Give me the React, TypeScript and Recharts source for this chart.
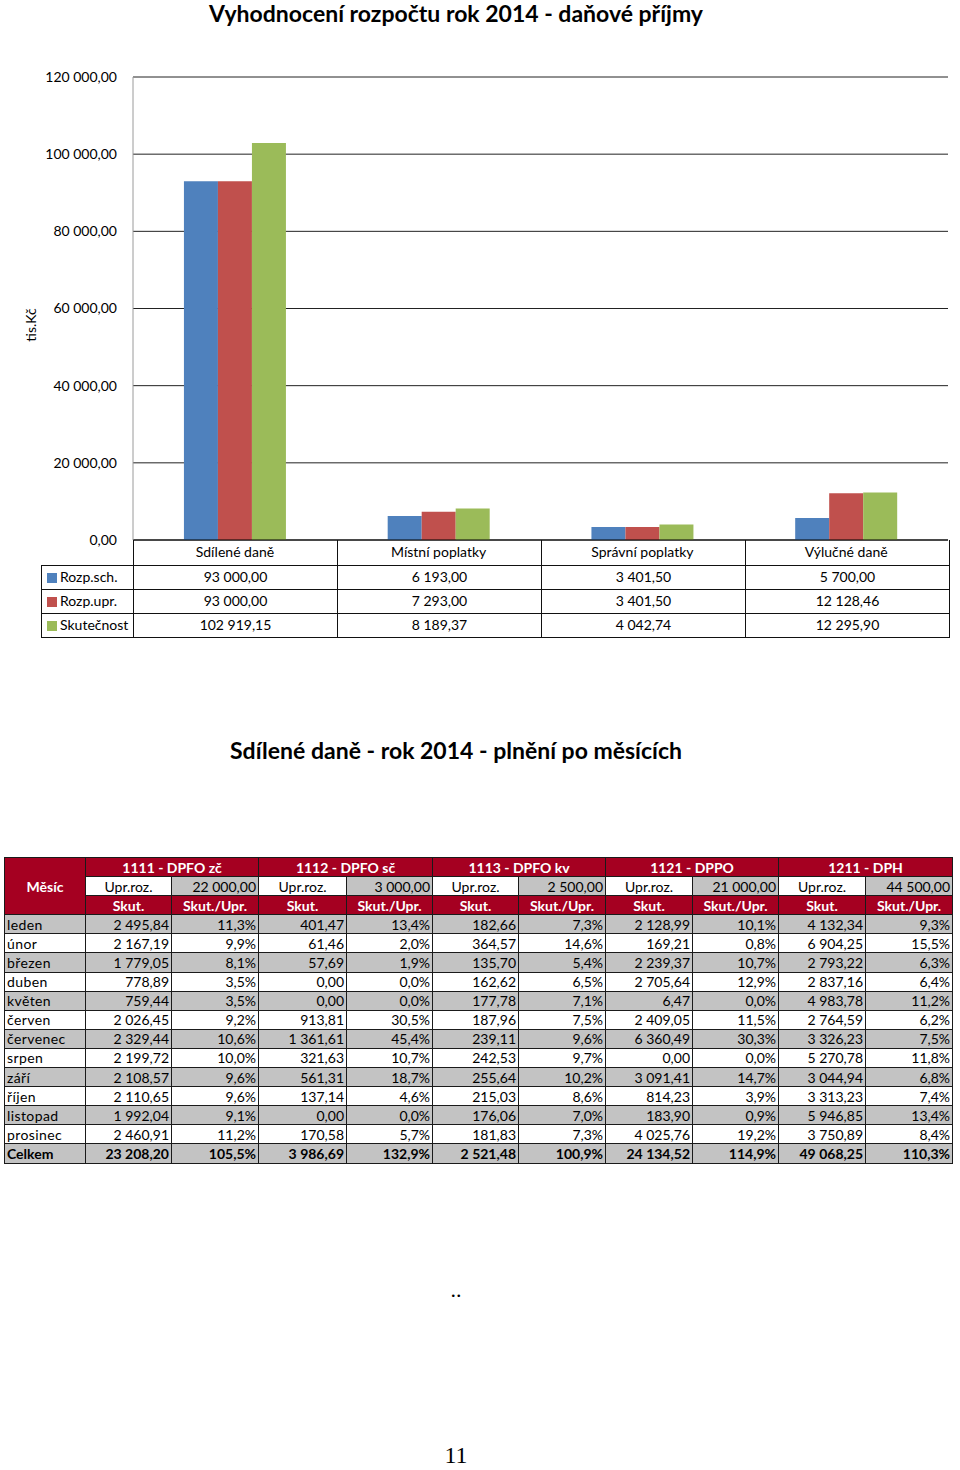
import React from 'react';
import { BarChart, Bar, XAxis, YAxis, CartesianGrid } from 'recharts';

// ---------- chart data ----------
const categories = ['Sdílené daně', 'Místní poplatky', 'Správní poplatky', 'Výlučné daně'];
const seriesNames = ['Rozp.sch.', 'Rozp.upr.', 'Skutečnost'];
const rozpSch = [93000, 6193, 3401.5, 5700];
const rozpUpr = [93000, 7293, 3401.5, 12128.46];
const skutecnost = [102919.15, 8189.37, 4042.74, 12295.9];
const yTicks = [0, 20000, 40000, 60000, 80000, 100000, 120000];
const seriesColors = ['#4F81BD', '#C0504D', '#9BBB59'];

// ---------- monthly table data ----------
const months = ['leden', 'únor', 'březen', 'duben', 'květen', 'červen', 'červenec', 'srpen', 'září', 'říjen', 'listopad', 'prosinec'];
const taxHeaders = ['1111 - DPFO zč', '1112 - DPFO sč', '1113 - DPFO kv', '1121 - DPPO', '1211 - DPH'];
const taxBudgets = ['22 000,00', '3 000,00', '2 500,00', '21 000,00', '44 500,00'];
const dpfoZc = ['2 495,84', '2 167,19', '1 779,05', '778,89', '759,44', '2 026,45', '2 329,44', '2 199,72', '2 108,57', '2 110,65', '1 992,04', '2 460,91'];
const dpfoZcPct = ['11,3%', '9,9%', '8,1%', '3,5%', '3,5%', '9,2%', '10,6%', '10,0%', '9,6%', '9,6%', '9,1%', '11,2%'];
const dpfoSc = ['401,47', '61,46', '57,69', '0,00', '0,00', '913,81', '1 361,61', '321,63', '561,31', '137,14', '0,00', '170,58'];
const dpfoScPct = ['13,4%', '2,0%', '1,9%', '0,0%', '0,0%', '30,5%', '45,4%', '10,7%', '18,7%', '4,6%', '0,0%', '5,7%'];
const dpfoKv = ['182,66', '364,57', '135,70', '162,62', '177,78', '187,96', '239,11', '242,53', '255,64', '215,03', '176,06', '181,83'];
const dpfoKvPct = ['7,3%', '14,6%', '5,4%', '6,5%', '7,1%', '7,5%', '9,6%', '9,7%', '10,2%', '8,6%', '7,0%', '7,3%'];
const dppo = ['2 128,99', '169,21', '2 239,37', '2 705,64', '6,47', '2 409,05', '6 360,49', '0,00', '3 091,41', '814,23', '183,90', '4 025,76'];
const dppoPct = ['10,1%', '0,8%', '10,7%', '12,9%', '0,0%', '11,5%', '30,3%', '0,0%', '14,7%', '3,9%', '0,9%', '19,2%'];
const dph = ['4 132,34', '6 904,25', '2 793,22', '2 837,16', '4 983,78', '2 764,59', '3 326,23', '5 270,78', '3 044,94', '3 313,23', '5 946,85', '3 750,89'];
const dphPct = ['9,3%', '15,5%', '6,3%', '6,4%', '11,2%', '6,2%', '7,5%', '11,8%', '6,8%', '7,4%', '13,4%', '8,4%'];
const totals = ['23 208,20', '3 986,69', '2 521,48', '24 134,52', '49 068,25'];
const totalPcts = ['105,5%', '132,9%', '100,9%', '114,9%', '110,3%'];

const taxSkut = [dpfoZc, dpfoSc, dpfoKv, dppo, dph];
const taxPct = [dpfoZcPct, dpfoScPct, dpfoKvPct, dppoPct, dphPct];

const FONT = 'Lato, "Open Sans", sans-serif';
const RED = '#A50021';
const GRAY = '#C3C3C3';

function fmt(n: number): string {
  const fixed = Math.abs(n).toFixed(2);
  const [intPart, dec] = fixed.split('.');
  const withSpaces = intPart.replace(/\B(?=(\d{3})+(?!\d))/g, '\u00a0');
  return (n < 0 ? '-' : '') + withSpaces + ',' + dec;
}

const chartData = categories.map((c, i) => ({
  name: c,
  s0: rozpSch[i],
  s1: rozpUpr[i],
  s2: skutecnost[i],
}));
const seriesValues = [rozpSch, rozpUpr, skutecnost];

const bigCols = [81, 86, 87, 88, 86, 86, 87, 87, 86, 87, 87];
const ROW_H = 19.1;

const cellBase: React.CSSProperties = {
  border: '1px solid #1a1a1a',
  padding: '0 2px',
  height: ROW_H,
  fontSize: 14,
  lineHeight: '17px',
  whiteSpace: 'nowrap',
  overflow: 'hidden',
  boxSizing: 'border-box',
};

function BigTable() {
  const rows: React.ReactNode[] = [];
  rows.push(
    <tr key="h1" style={{ height: ROW_H }}>
      <td rowSpan={3} style={{ ...cellBase, background: RED, color: '#fff', fontWeight: 700, textAlign: 'center' }}>Měsíc</td>
      {taxHeaders.map((h) => (
        <td key={h} colSpan={2} style={{ ...cellBase, background: RED, color: '#fff', fontWeight: 700, textAlign: 'center' }}>{h}</td>
      ))}
    </tr>
  );
  rows.push(
    <tr key="h2" style={{ height: ROW_H }}>
      {taxBudgets.map((b, i) => (
        <React.Fragment key={i}>
          <td style={{ ...cellBase, background: '#fff', textAlign: 'center' }}>Upr.roz.</td>
          <td style={{ ...cellBase, background: GRAY, textAlign: 'right' }}>{b}</td>
        </React.Fragment>
      ))}
    </tr>
  );
  rows.push(
    <tr key="h3" style={{ height: ROW_H }}>
      {taxHeaders.map((_, i) => (
        <React.Fragment key={i}>
          <td style={{ ...cellBase, background: RED, color: '#fff', fontWeight: 700, textAlign: 'center' }}>Skut.</td>
          <td style={{ ...cellBase, background: RED, color: '#fff', fontWeight: 700, textAlign: 'center' }}>Skut./Upr.</td>
        </React.Fragment>
      ))}
    </tr>
  );
  months.forEach((m, r) => {
    const bg = r % 2 === 0 ? GRAY : '#fff';
    rows.push(
      <tr key={m} style={{ height: ROW_H }}>
        <td style={{ ...cellBase, background: bg, textAlign: 'left', letterSpacing: 0.4 }}>{m}</td>
        {taxSkut.map((arr, i) => (
          <React.Fragment key={i}>
            <td style={{ ...cellBase, background: bg, textAlign: 'right' }}>{arr[r]}</td>
            <td style={{ ...cellBase, background: bg, textAlign: 'right' }}>{taxPct[i][r]}</td>
          </React.Fragment>
        ))}
      </tr>
    );
  });
  rows.push(
    <tr key="total" style={{ height: ROW_H }}>
      <td style={{ ...cellBase, background: GRAY, textAlign: 'left', fontWeight: 700 }}>Celkem</td>
      {totals.map((t, i) => (
        <React.Fragment key={i}>
          <td style={{ ...cellBase, background: GRAY, textAlign: 'right', fontWeight: 700 }}>{t}</td>
          <td style={{ ...cellBase, background: GRAY, textAlign: 'right', fontWeight: 700 }}>{totalPcts[i]}</td>
        </React.Fragment>
      ))}
    </tr>
  );
  return (
    <table
      style={{
        position: 'absolute',
        left: 4,
        top: 857,
        width: 948,
        borderCollapse: 'collapse',
        tableLayout: 'fixed',
        fontFamily: FONT,
        color: '#000',
      }}
    >
      <colgroup>
        {bigCols.map((w, i) => (
          <col key={i} style={{ width: w }} />
        ))}
      </colgroup>
      <tbody>{rows}</tbody>
    </table>
  );
}

function ChartTable() {
  const cell: React.CSSProperties = {
    border: '1px solid #111',
    height: 24,
    padding: 0,
    fontSize: 14,
    lineHeight: '22px',
    textAlign: 'center',
    whiteSpace: 'nowrap',
    boxSizing: 'border-box',
  };
  return (
    <table
      style={{
        position: 'absolute',
        left: 41,
        top: 540,
        width: 908,
        borderCollapse: 'collapse',
        tableLayout: 'fixed',
        fontFamily: FONT,
        color: '#000',
      }}
    >
      <colgroup>
        <col style={{ width: 92 }} />
        <col style={{ width: 204 }} />
        <col style={{ width: 204 }} />
        <col style={{ width: 204 }} />
        <col style={{ width: 204 }} />
      </colgroup>
      <tbody>
        <tr style={{ height: 25 }}>
          <td style={{ ...cell, border: 'none', height: 25 }}></td>
          {categories.map((c) => (
            <td key={c} style={{ ...cell, height: 25, borderTop: 'none' }}></td>
          ))}
        </tr>
        {seriesNames.map((s, si) => (
          <tr key={s} style={{ height: 24 }}>
            <td style={{ ...cell, textAlign: 'left', paddingLeft: 5 }}>
              <span
                style={{
                  display: 'inline-block',
                  width: 10,
                  height: 10,
                  background: seriesColors[si],
                  marginRight: 3,
                  verticalAlign: -1,
                }}
              />
              {s}
            </td>
            {categories.map((c, ci) => (
              <td key={c} style={cell}>{fmt(seriesValues[si][ci])}</td>
            ))}
          </tr>
        ))}
      </tbody>
    </table>
  );
}

export default function App() {
  return (
    <div
      style={{
        position: 'absolute',
        left: 0,
        top: 0,
        width: 960,
        height: 1470,
        background: '#fff',
        fontFamily: FONT,
        overflow: 'hidden',
      }}
    >
      <div
        style={{
          position: 'absolute',
          left: 0,
          top: 0,
          width: 912,
          textAlign: 'center',
          fontSize: 23,
          lineHeight: '26px',
          fontWeight: 700,
          color: '#000',
        }}
      >
        Vyhodnocení rozpočtu rok 2014 - daňové příjmy
      </div>

      <div style={{ position: 'absolute', left: 0, top: 0 }}>
        <BarChart
          width={960}
          height={566}
          data={chartData}
          margin={{ top: 77, right: 12, bottom: 0, left: 0 }}
          barCategoryGap="25%"
          barGap={0}
        >
          <CartesianGrid vertical={false} stroke="#222" />
          <XAxis
            dataKey="name"
            height={26}
            interval={0}
            tickLine={false}
            tickSize={0}
            tickMargin={7}
            axisLine={{ stroke: '#000' }}
            tick={{ fontSize: 14, fill: '#000', fontFamily: FONT }}
          />
          <XAxis xAxisId="top" orientation="top" height={0} tick={false} tickLine={false} axisLine={{ stroke: '#9a9a9a' }} />
          <YAxis
            width={133}
            domain={[0, 120000]}
            ticks={yTicks}
            interval={0}
            tickFormatter={fmt}
            tickLine={false}
            tickSize={0}
            tickMargin={16}
            axisLine={{ stroke: '#9a9a9a' }}
            tick={{ fontSize: 14, fill: '#000', fontFamily: FONT }}
          />
          <YAxis yAxisId="right" orientation="right" width={0} domain={[0, 1]} tick={false} tickLine={false} axisLine={{ stroke: '#9a9a9a' }} />
          <Bar dataKey="s0" name={seriesNames[0]} fill={seriesColors[0]} isAnimationActive={false} />
          <Bar dataKey="s1" name={seriesNames[1]} fill={seriesColors[1]} isAnimationActive={false} />
          <Bar dataKey="s2" name={seriesNames[2]} fill={seriesColors[2]} isAnimationActive={false} />
        </BarChart>
      </div>

      <div
        style={{
          position: 'absolute',
          left: 30,
          top: 325,
          transform: 'translate(-50%, -50%) rotate(-90deg)',
          fontSize: 14,
          color: '#000',
          whiteSpace: 'nowrap',
        }}
      >
        tis.Kč
      </div>

      <ChartTable />

      <div
        style={{
          position: 'absolute',
          left: 0,
          top: 737,
          width: 912,
          textAlign: 'center',
          fontSize: 23,
          lineHeight: '26px',
          fontWeight: 700,
          color: '#000',
        }}
      >
        Sdílené daně - rok 2014 - plnění po měsících
      </div>

      <BigTable />

      <div
        style={{
          position: 'absolute',
          left: 0,
          top: 1277,
          width: 912,
          textAlign: 'center',
          fontFamily: '"Liberation Serif", "DejaVu Serif", serif',
          fontSize: 22,
          color: '#000',
        }}
      >
        ..
      </div>
      <div
        style={{
          position: 'absolute',
          left: 0,
          top: 1443,
          width: 912,
          textAlign: 'center',
          fontFamily: '"Liberation Serif", "DejaVu Serif", serif',
          fontSize: 24,
          lineHeight: '24px',
          color: '#000',
        }}
      >
        11
      </div>
    </div>
  );
}
